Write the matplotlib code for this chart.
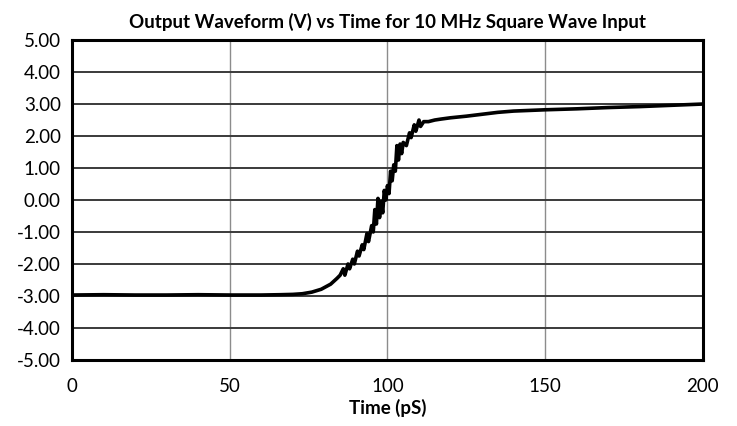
import matplotlib
matplotlib.use('Agg')
import matplotlib.pyplot as plt

# values (time in pS, output in V)
time_ps = [0, 10, 20, 30, 40, 50, 60, 66, 70, 73, 76, 79, 82, 84, 85, 86, 86.5,
           87.5, 88, 89, 89.5, 90.5, 91, 92, 92.5, 93.5, 94, 95, 95.5, 96, 96.5,
           97, 97.5, 98, 98.5, 99, 99.5, 100, 100.5, 101, 101.5, 102, 102.5, 103,
           103.5, 104, 104.5, 105, 106, 107, 107.5, 108.5, 109, 110, 110.5, 111.5,
           113, 115, 117, 120, 125, 130, 135, 140, 150, 160, 170, 180, 190, 200]
volts = [-2.97, -2.96, -2.97, -2.97, -2.96, -2.97, -2.97, -2.96, -2.95, -2.93,
         -2.88, -2.79, -2.63, -2.45, -2.35, -2.15, -2.35, -2.0, -2.15, -1.85,
         -2.0, -1.6, -1.75, -1.4, -1.55, -1.05, -1.3, -0.8, -1.0, -0.3, -0.75,
         0.05, -0.55, -0.05, -0.4, 0.3, 0.0, 0.45, 0.2, 0.9, 0.6, 1.1, 0.9, 1.7,
         1.25, 1.75, 1.45, 1.8, 1.7, 2.1, 1.95, 2.35, 2.15, 2.5, 2.3, 2.45,
         2.45, 2.5, 2.53, 2.57, 2.62, 2.68, 2.74, 2.78, 2.82, 2.85, 2.89, 2.92,
         2.96, 3.0]

x_ticks = [0, 50, 100, 150, 200]
y_ticks = [-5, -4, -3, -2, -1, 0, 1, 2, 3, 4, 5]

plt.rcParams['font.family'] = ['Lato', 'DejaVu Sans']

fig = plt.figure(figsize=(7.37, 4.26), dpi=100)
ax = fig.add_axes([0.0977, 0.155, 0.856, 0.751])

ax.plot(time_ps, volts, color='black', linewidth=2.6, zorder=3)

ax.set_xlim(0, 200)
ax.set_ylim(-5, 5)
ax.set_xticks(x_ticks)
ax.set_yticks(y_ticks)
ax.set_yticklabels([f'{v:.2f}' for v in y_ticks])
ax.tick_params(length=0, labelsize=13.5)
ax.tick_params(axis='y', pad=8)
ax.tick_params(axis='x', pad=13)

ax.grid(axis='y', color='#3a3a3a', linewidth=1.4)
ax.grid(axis='x', color='#8c8c8c', linewidth=1.0)
ax.set_axisbelow(True)
for s in ax.spines.values():
    s.set_linewidth(2.2)
    s.set_color('black')

ax.set_title('Output Waveform (V) vs Time for 10 MHz Square Wave Input',
             fontsize=13.5, fontweight='bold', pad=9)
ax.set_xlabel('Time (pS)', fontsize=13.5, fontweight='bold', labelpad=3)

fig.savefig('out.png', dpi=100)
